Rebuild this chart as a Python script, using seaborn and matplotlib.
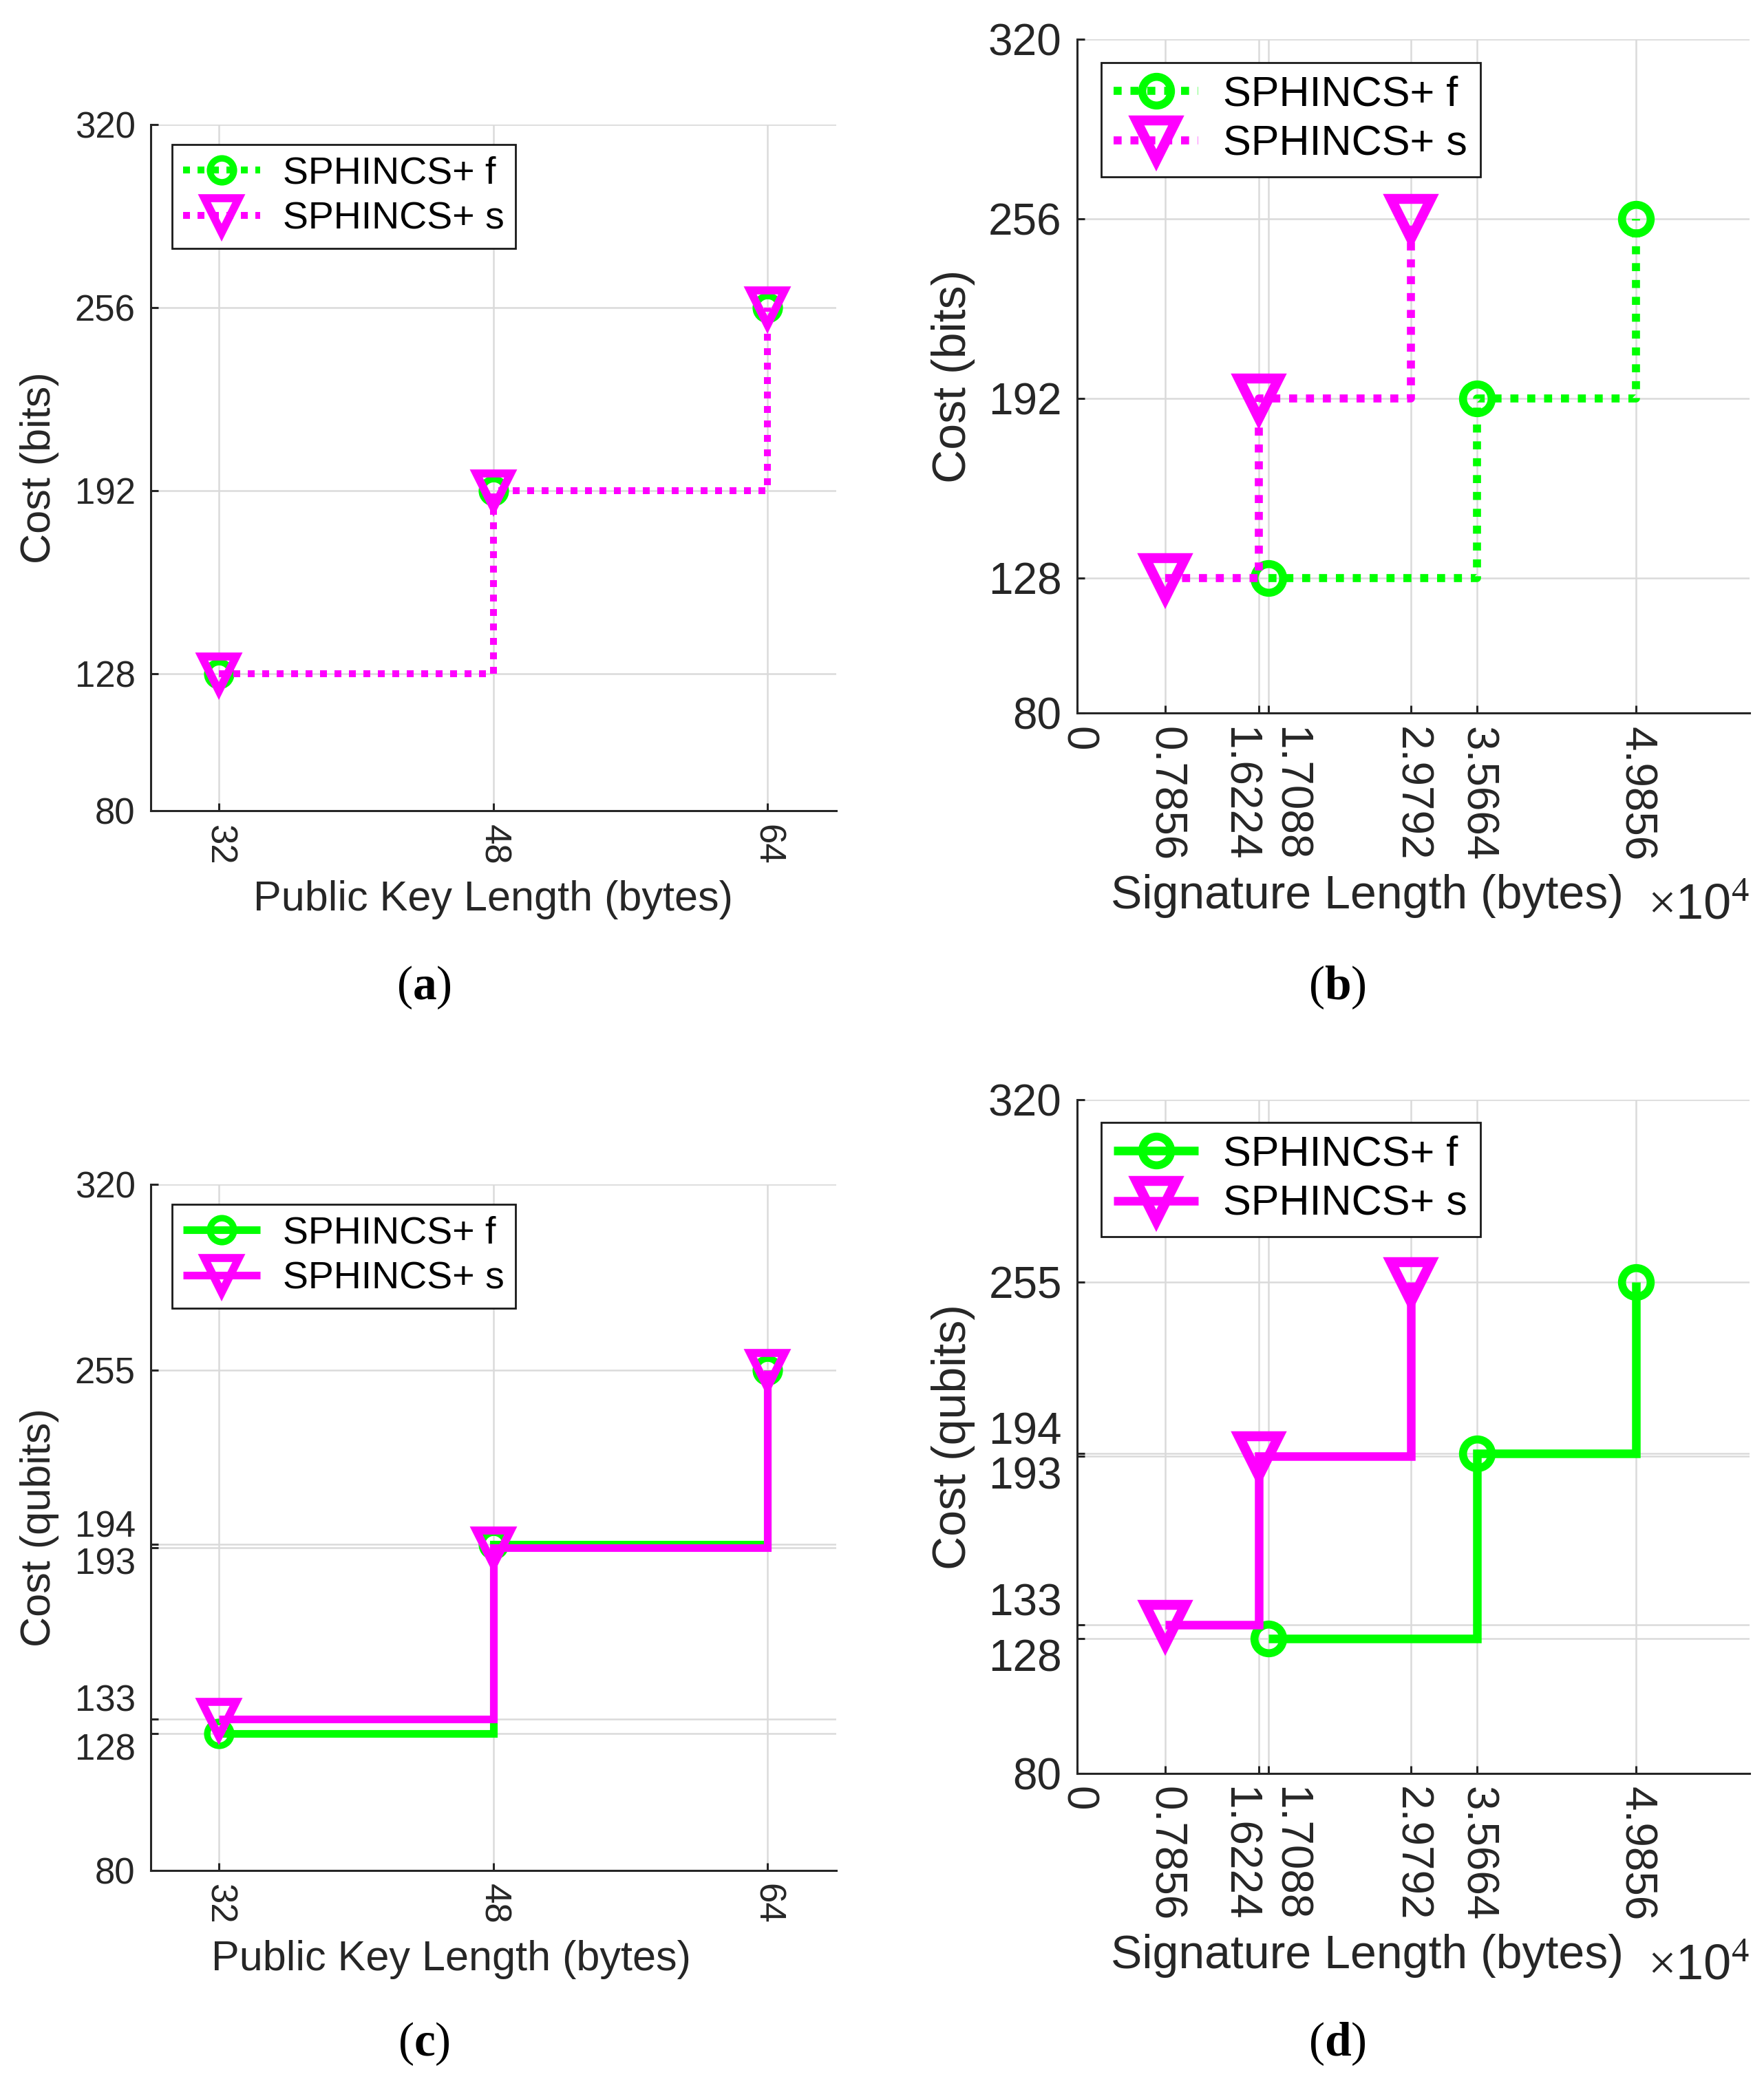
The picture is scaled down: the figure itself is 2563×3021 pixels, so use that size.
import numpy as np
import pandas as pd
import matplotlib
matplotlib.use("Agg")
import matplotlib.pyplot as plt
import seaborn as sns

# ---------------- data ----------------
pk_len = [32, 48, 64]                    # public key length (bytes)
bits_f = [128, 192, 256]                 # classical cost, SPHINCS+ f
bits_s = [128, 192, 256]                 # classical cost, SPHINCS+ s
sig_f = [17088, 35664, 49856]            # signature length (bytes), SPHINCS+ f
sig_s = [7856, 16224, 29792]             # signature length (bytes), SPHINCS+ s
qubits_f = [128, 194, 255]               # quantum cost, SPHINCS+ f
qubits_s = [133, 193, 255]               # quantum cost, SPHINCS+ s

yticks_bits = [80, 128, 192, 256, 320]
yticks_qubits = [80, 128, 133, 193, 194, 255, 320]
series_names = ["SPHINCS+ f", "SPHINCS+ s"]
panel_tags = ["a", "b", "c", "d"]

GREEN = "#00ff00"
MAGENTA = "#ff00ff"
TXT = "#262626"

sns.set_theme(style="white")
plt.rcParams["font.family"] = ["Liberation Sans", "DejaVu Sans"]
plt.rcParams["mathtext.fontset"] = "custom"
plt.rcParams["mathtext.rm"] = "Liberation Serif"
plt.rcParams["mathtext.bf"] = "Liberation Serif:bold"
plt.rcParams["mathtext.it"] = "Liberation Sans:italic"

DPI = 200
fig = plt.figure(figsize=(2563 / DPI, 3021 / DPI), dpi=DPI)
fig.patch.set_facecolor("white")

ax_a = fig.add_axes([0.0854, 0.610, 0.3886, 0.330])
ax_b = fig.add_axes([0.6106, 0.657, 0.3812, 0.324])
ax_c = fig.add_axes([0.0854, 0.1003, 0.3886, 0.330])
ax_d = fig.add_axes([0.6106, 0.147, 0.3812, 0.324])


def draw(ax, x_f, y_f, x_s, y_s, ls, lw, ms_o, ms_v, mew_o, mew_v):
    dash = (0, (1, 1.1)) if ls == ":" else "-"
    df_f = pd.DataFrame({"x": x_f, "y": y_f})
    df_s = pd.DataFrame({"x": x_s, "y": y_s})
    for df, col, mk, ms, mew, name in [(df_f, GREEN, "o", ms_o, mew_o, series_names[0]),
                                       (df_s, MAGENTA, "v", ms_v, mew_v, series_names[1])]:
        sns.lineplot(data=df, x="x", y="y", ax=ax, color=col, drawstyle="steps-post",
                     linestyle=dash, linewidth=lw, marker=mk, markersize=ms,
                     markerfacecolor="none", markeredgecolor=col, markeredgewidth=mew,
                     dash_capstyle="butt", solid_capstyle="butt", solid_joinstyle="miter",
                     label=name, errorbar=None, sort=False, clip_on=False, zorder=3)


def style(ax, yticks, tick_fs, lab_fs, leg_fs, ylabel, xlabel, ylab_x, xlab_xy, leg_anchor):
    ax.set_ylim(80, 320)
    ax.set_yticks(yticks)
    ax.set_yticklabels([str(v) for v in yticks])
    ax.grid(True, color="#dadada", linewidth=0.9)
    ax.set_axisbelow(True)
    for s in ["top", "right"]:
        ax.spines[s].set_visible(False)
    for s in ["left", "bottom"]:
        ax.spines[s].set_color(TXT)
        ax.spines[s].set_linewidth(1.1)
    ax.tick_params(axis="both", which="both", direction="in", length=4, width=1.1,
                   color=TXT, labelcolor=TXT, labelsize=tick_fs, left=True, bottom=True)
    ax.tick_params(axis="y", pad=8)
    ax.tick_params(axis="x", pad=7)
    ax.set_ylabel(ylabel, fontsize=lab_fs, color=TXT)
    ax.set_xlabel(xlabel, fontsize=lab_fs, color=TXT)
    ax.yaxis.set_label_coords(ylab_x, 0.5)
    ax.xaxis.set_label_coords(*xlab_xy)
    ax.xaxis.label.set_va("center")
    ax.yaxis.label.set_va("center")
    leg = ax.legend(loc="upper left", bbox_to_anchor=leg_anchor, borderaxespad=0,
                    fontsize=leg_fs, frameon=True, fancybox=False, framealpha=1,
                    edgecolor="#1a1a1a", handlelength=2.0, handletextpad=0.6,
                    labelspacing=0.25, borderpad=0.3)
    leg.get_frame().set_linewidth(1.0)
    for t in leg.get_texts():
        t.set_color("black")


def pk_axis(ax):
    ax.set_xlim(28, 68)
    ax.set_xticks(pk_len)
    ax.set_xticklabels([str(v) for v in pk_len], rotation=-90, va="top", ha="center")


def sig_axis(ax, fs):
    ticks = sorted([0] + sig_s + sig_f)
    ax.set_xlim(0, 60000)
    ax.set_xticks(ticks)
    labels = ["0" if v == 0 else f"{v / 1e4:.4f}" for v in ticks]
    ax.set_xticklabels(labels, rotation=-90, va="top", ha="center")
    for lab, v in zip(ax.get_xticklabels(), ticks):
        if v == sig_s[1]:
            lab.set_ha("right")
        elif v == sig_f[0]:
            lab.set_ha("left")
    ax.text(1.0, -0.287, r"$\times$10$^{4}$", transform=ax.transAxes, ha="right",
            va="center", fontsize=fs, color=TXT, family=["Liberation Sans", "DejaVu Sans"])


def split_labels(ax, pairs):
    for lab in ax.get_yticklabels():
        t = lab.get_text()
        if t in pairs:
            lab.set_va(pairs[t])


# (a)
draw(ax_a, pk_len, bits_f, pk_len, bits_s, ":", 3.6, 12.5, 18, 3.4, 4.2)
pk_axis(ax_a)
style(ax_a, yticks_bits, 19, 22, 20, "Cost (bits)", "Public Key Length (bytes)",
      -0.162, (0.5, -0.130), (0.031, 0.971))

# (b)
draw(ax_b, sig_f, bits_f, sig_s, bits_s, ":", 4.2, 15, 21, 4.2, 5.2)
sig_axis(ax_b, 26)
style(ax_b, yticks_bits, 23, 24.5, 22, "Cost (bits)", "Signature Length (bytes)",
      -0.184, (0.431, -0.272), (0.036, 0.966))

# (c)
draw(ax_c, pk_len, qubits_f, pk_len, qubits_s, "-", 4.0, 12.5, 18, 3.4, 4.2)
pk_axis(ax_c)
style(ax_c, yticks_qubits, 19, 22, 20, "Cost (qubits)", "Public Key Length (bytes)",
      -0.162, (0.438, -0.130), (0.031, 0.971))
split_labels(ax_c, {"194": "bottom", "193": "top", "133": "bottom", "128": "top"})

# (d)
draw(ax_d, sig_f, qubits_f, sig_s, qubits_s, "-", 4.5, 15, 21, 4.2, 5.2)
sig_axis(ax_d, 26)
style(ax_d, yticks_qubits, 23, 24.5, 22, "Cost (qubits)", "Signature Length (bytes)",
      -0.184, (0.431, -0.271), (0.036, 0.966))
split_labels(ax_d, {"194": "bottom", "193": "top", "133": "bottom", "128": "top"})

# panel tags
for tag, (x, y) in zip(panel_tags, [(0.2403, 0.525), (0.758, 0.525),
                                    (0.2403, 0.017), (0.758, 0.017)]):
    fig.text(x, y, "(" + r"$\mathbf{" + tag + "}$" + ")", ha="center", va="center",
             fontsize=25, color="black", family="Liberation Serif")

fig.savefig("out.png", dpi=DPI, facecolor="white")
